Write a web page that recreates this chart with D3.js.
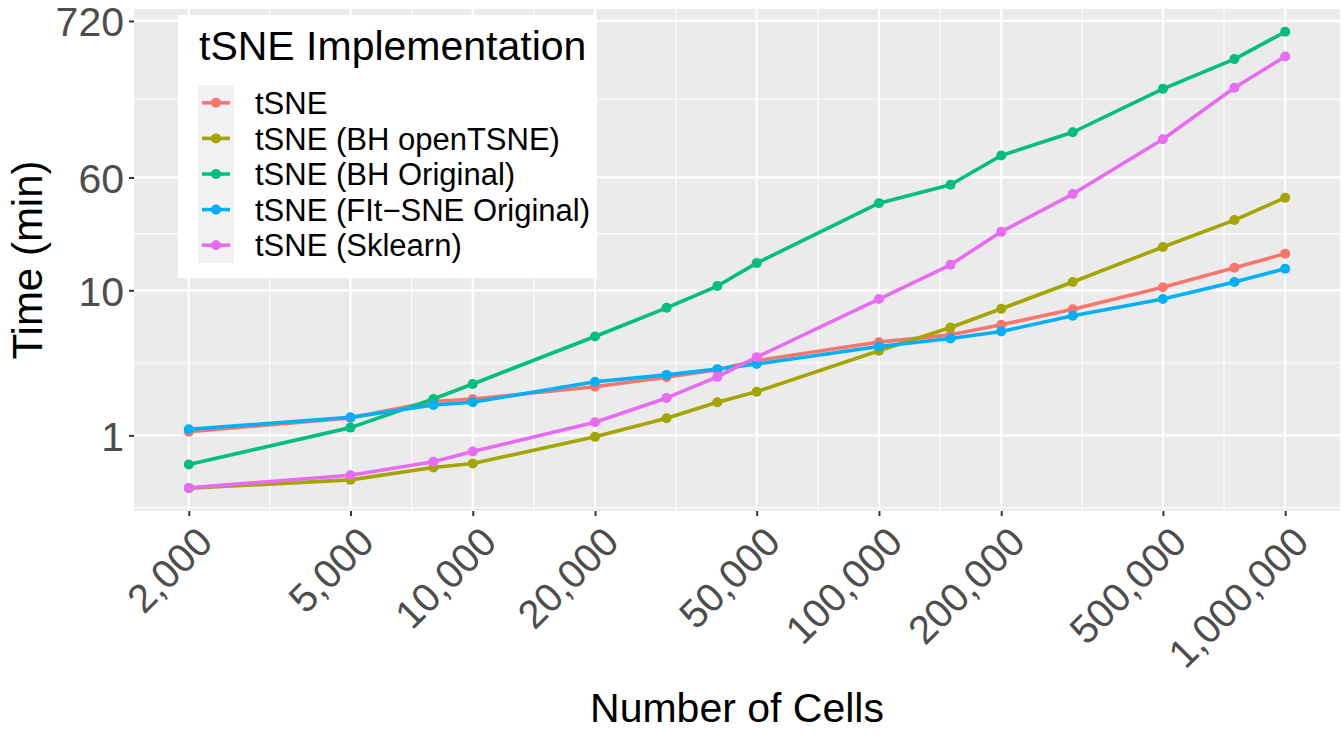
<!DOCTYPE html>
<html>
<head>
<meta charset="utf-8">
<script src="https://cdn.jsdelivr.net/npm/d3@7"></script>
<style>
  body { margin: 0; background: #fff; }
  svg { display: block; font-family: "Liberation Sans", Arial, sans-serif; }
</style>
</head>
<body>
<svg id="chart"></svg>
<script>
// Number of cells (x) - every series uses the same sizes
const cells = [2000, 5000, 8000, 10000, 20000, 30000, 40000, 50000,
               100000, 150000, 200000, 300000, 500000, 750000, 1000000];

// Run time in minutes
const tsne       = [1.06, 1.32, 1.71, 1.78, 2.16, 2.52, 2.83, 3.28, 4.39, 4.93, 5.78, 7.40, 10.5, 14.3, 17.9];
const bhOpen     = [0.432, 0.493, 0.600, 0.639, 0.976, 1.31, 1.69, 2.00, 3.83, 5.54, 7.46, 11.4, 19.9, 30.5, 43.5];
const bhOriginal = [0.629, 1.13, 1.78, 2.26, 4.80, 7.57, 10.7, 15.4, 39.9, 53.4, 85.0, 123, 245, 393, 606];
const fitsne     = [1.10, 1.33, 1.62, 1.69, 2.34, 2.61, 2.86, 3.10, 4.10, 4.65, 5.20, 6.67, 8.70, 11.4, 14.1];
const sklearn    = [0.434, 0.531, 0.657, 0.773, 1.23, 1.81, 2.53, 3.46, 8.70, 15.0, 25.3, 46.1, 110, 249, 410];

const seriesNames = ['tSNE', 'tSNE (BH openTSNE)', 'tSNE (BH Original)', 'tSNE (FIt\u2212SNE Original)', 'tSNE (Sklearn)'];
const seriesColors = ['#F8766D', '#A3A500', '#00BF7D', '#00B0F6', '#E76BF3'];

// Axis breaks
const xBreaks = [2000, 5000, 10000, 20000, 50000, 100000, 200000, 500000, 1000000];
const yBreaks = [1, 10, 60, 720];

const allSeries = [tsne, bhOpen, bhOriginal, fitsne, sklearn];

const width = 1343;
const height = 738;
const panel = { left: 134, right: 1340, top: 9, bottom: 511 };

const svg = d3.select('#chart').attr('width', width).attr('height', height);

// Log scales with ggplot style 5% expansion
function expandLog(lo, hi) {
    const a = Math.log10(lo), b = Math.log10(hi);
    const pad = (b - a) * 0.05;
    return [Math.pow(10, a - pad), Math.pow(10, b + pad)];
}

const xScale = d3.scaleLog()
    .domain(expandLog(d3.min(cells), d3.max(cells)))
    .range([panel.left, panel.right]);

const allValues = allSeries.flat();
const yScale = d3.scaleLog()
    .domain(expandLog(d3.min(allValues), d3.max(allValues)))
    .range([panel.bottom, panel.top]);

// Minor breaks sit halfway between majors (in log space)
function minorBreaks(breaks, domain) {
    const out = [];
    for (let i = 0; i < breaks.length - 1; i++) out.push(Math.sqrt(breaks[i] * breaks[i + 1]));
    out.push(breaks[0] / Math.sqrt(breaks[1] / breaks[0]));
    const n = breaks.length;
    out.push(breaks[n - 1] * Math.sqrt(breaks[n - 1] / breaks[n - 2]));
    return out.filter(v => v > domain[0] && v < domain[1]);
}

// Panel background
svg.append('rect')
    .attr('x', panel.left).attr('y', panel.top)
    .attr('width', panel.right - panel.left)
    .attr('height', panel.bottom - panel.top)
    .attr('fill', '#EBEBEB');

const grid = svg.append('g');
minorBreaks(xBreaks, xScale.domain()).forEach(v => {
    grid.append('line').attr('x1', xScale(v)).attr('x2', xScale(v))
        .attr('y1', panel.top).attr('y2', panel.bottom)
        .attr('stroke', '#fff').attr('stroke-width', 1.1);
});
minorBreaks(yBreaks, yScale.domain()).forEach(v => {
    grid.append('line').attr('y1', yScale(v)).attr('y2', yScale(v))
        .attr('x1', panel.left).attr('x2', panel.right)
        .attr('stroke', '#fff').attr('stroke-width', 1.1);
});
xBreaks.forEach(v => {
    grid.append('line').attr('x1', xScale(v)).attr('x2', xScale(v))
        .attr('y1', panel.top).attr('y2', panel.bottom)
        .attr('stroke', '#fff').attr('stroke-width', 2.2);
});
yBreaks.forEach(v => {
    grid.append('line').attr('y1', yScale(v)).attr('y2', yScale(v))
        .attr('x1', panel.left).attr('x2', panel.right)
        .attr('stroke', '#fff').attr('stroke-width', 2.2);
});

// Axes
const xAxis = d3.axisBottom(xScale).tickValues(xBreaks).tickSize(5).tickPadding(4)
    .tickFormat(d3.format(','));
const yAxis = d3.axisLeft(yScale).tickValues(yBreaks).tickSize(5).tickPadding(5)
    .tickFormat(d3.format('d'));

const gx = svg.append('g')
    .attr('transform', `translate(0, ${panel.bottom})`)
    .call(xAxis);
gx.select('.domain').remove();
gx.selectAll('.tick line').attr('stroke', '#333').attr('stroke-width', 2);
gx.selectAll('.tick text')
    .attr('fill', '#4D4D4D')
    .attr('font-size', 40)
    .attr('text-anchor', 'end')
    .attr('y', 0)
    .attr('dy', '0.72em')
    .attr('transform', 'translate(5, 13) rotate(-45)');

const gy = svg.append('g')
    .attr('transform', `translate(${panel.left}, 0)`)
    .call(yAxis);
gy.select('.domain').remove();
gy.selectAll('.tick line').attr('stroke', '#333').attr('stroke-width', 2);
gy.selectAll('.tick text')
    .attr('fill', '#4D4D4D')
    .attr('font-size', 41)
    .attr('dy', '0.36em');

// Axis titles
svg.append('text')
    .attr('x', (panel.left + panel.right) / 2)
    .attr('y', 722)
    .attr('text-anchor', 'middle')
    .attr('font-size', 41)
    .text('Number of Cells');

svg.append('text')
    .attr('transform', 'rotate(-90)')
    .attr('x', -(panel.top + panel.bottom) / 2)
    .attr('y', 42)
    .attr('text-anchor', 'middle')
    .attr('font-size', 42)
    .text('Time (min)');

// Lines first, then points (like ggplot layers)
const line = d3.line()
    .x((d, i) => xScale(cells[i]))
    .y(d => yScale(d));

allSeries.forEach((values, s) => {
    svg.append('path')
        .datum(values)
        .attr('fill', 'none')
        .attr('stroke', seriesColors[s])
        .attr('stroke-width', 3.6)
        .attr('stroke-linejoin', 'round')
        .attr('d', line);
});

allSeries.forEach((values, s) => {
    svg.append('g').selectAll('circle')
        .data(values)
        .join('circle')
        .attr('cx', (d, i) => xScale(cells[i]))
        .attr('cy', d => yScale(d))
        .attr('r', 5)
        .attr('fill', seriesColors[s]);
});

// Legend
const legend = svg.append('g');
legend.append('rect')
    .attr('x', 178).attr('y', 15)
    .attr('width', 419).attr('height', 263)
    .attr('fill', '#fff');

legend.append('text')
    .attr('x', 199).attr('y', 60)
    .attr('font-size', 41)
    .text('tSNE Implementation');

const keyTop = 85;
const keyH = 35.6;
legend.append('rect')
    .attr('x', 198).attr('y', keyTop)
    .attr('width', 36).attr('height', keyH * seriesNames.length)
    .attr('fill', '#F2F2F2');

seriesNames.forEach((name, i) => {
    const cy = keyTop + keyH * i + keyH / 2;
    legend.append('line')
        .attr('x1', 202).attr('x2', 230)
        .attr('y1', cy).attr('y2', cy)
        .attr('stroke', seriesColors[i])
        .attr('stroke-width', 3.6);
    legend.append('circle')
        .attr('cx', 216).attr('cy', cy).attr('r', 5)
        .attr('fill', seriesColors[i]);
    legend.append('text')
        .attr('x', 255).attr('y', cy)
        .attr('dy', '0.36em')
        .attr('font-size', 31)
        .text(name);
});
</script>
</body>
</html>
